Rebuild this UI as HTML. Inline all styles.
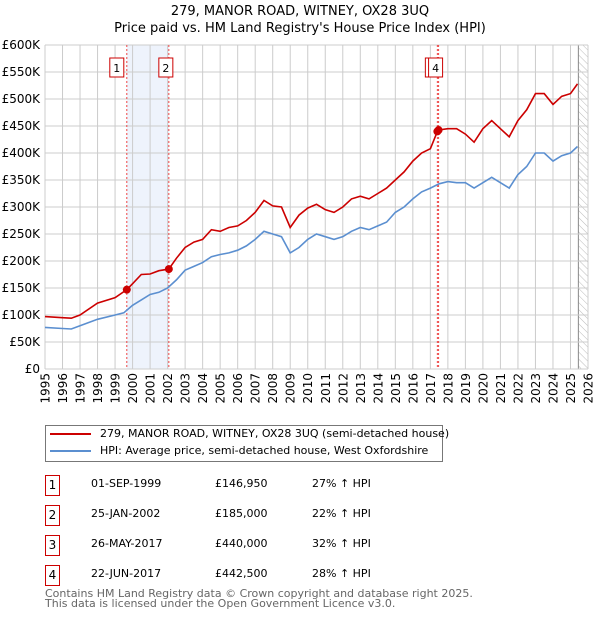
<!DOCTYPE html>
<html><head><meta charset="utf-8"><style>
body{margin:0;background:#fff;font-family:"DejaVu Sans","Liberation Sans",sans-serif;}
#wrap{position:relative;width:600px;height:620px;overflow:hidden}
.t{position:absolute;font-size:12px;color:#000;white-space:nowrap}
.box{position:absolute;border:1px solid #c00;width:13px;height:19px;font-size:12px;text-align:center;line-height:19px}
</style></head><body><div id="wrap">
<div class="t" style="left:0;width:600px;text-align:center;top:4px;font-size:13px">279, MANOR ROAD, WITNEY, OX28 3UQ</div>
<div class="t" style="left:0;width:600px;text-align:center;top:21px;font-size:13px">Price paid vs. HM Land Registry's House Price Index (HPI)</div>
<svg id="chart" width="600" height="420" style="position:absolute;left:0;top:0"></svg>
<div style="position:absolute;left:45px;top:425px;width:396px;height:35px;border:1px solid #777"></div>
<div style="position:absolute;left:50px;top:433px;width:41px;height:2px;background:#c00"></div>
<div class="t" style="left:100px;top:427px;font-size:11px">279, MANOR ROAD, WITNEY, OX28 3UQ (semi-detached house)</div>
<div style="position:absolute;left:50px;top:450px;width:41px;height:2px;background:#5b8fd0"></div>
<div class="t" style="left:100px;top:444px;font-size:11px">HPI: Average price, semi-detached house, West Oxfordshire</div>
<div id="table"></div>
<div class="t" style="left:45px;top:589px;color:#666;font-size:11px;line-height:10px">Contains HM Land Registry data © Crown copyright and database right 2025.<br>This data is licensed under the Open Government Licence v3.0.</div>
</div>
<script>
const hpiYears=[1995,1996,1996.5,1997,1998,1999,1999.5,2000,2000.5,2001,2001.5,2002,2002.5,2003,2003.5,2004,2004.5,2005,2005.5,2006,2006.5,2007,2007.5,2008,2008.5,2009,2009.5,2010,2010.5,2011,2011.5,2012,2012.5,2013,2013.5,2014,2014.5,2015,2015.5,2016,2016.5,2017,2017.5,2018,2018.5,2019,2019.5,2020,2020.5,2021,2021.5,2022,2022.5,2023,2023.5,2024,2024.5,2025,2025.4];
const hpiValues=[77,75,74,80,92,100,104,118,128,138,142,150,165,183,190,197,208,212,215,220,228,240,255,250,245,215,225,240,250,245,240,245,255,262,258,265,272,290,300,315,328,335,343,347,345,345,335,345,355,345,335,360,375,400,400,385,395,400,412];
const priceYears=[1995,1996,1996.5,1997,1998,1999,1999.67,2000,2000.5,2001,2001.5,2002.07,2002.5,2003,2003.5,2004,2004.5,2005,2005.5,2006,2006.5,2007,2007.5,2008,2008.5,2009,2009.5,2010,2010.5,2011,2011.5,2012,2012.5,2013,2013.5,2014,2014.5,2015,2015.5,2016,2016.5,2017,2017.4,2017.47,2018,2018.5,2019,2019.5,2020,2020.5,2021,2021.5,2022,2022.5,2023,2023.5,2024,2024.5,2025,2025.4];
const priceValues=[97,95,94,100,122,132,147,158,175,176,182,185,205,225,235,240,258,255,262,265,275,290,312,302,300,262,285,298,305,295,290,300,315,320,315,325,335,350,365,385,400,408,440,442.5,445,445,435,420,445,460,445,430,460,480,510,510,490,505,510,528];
const saleLabels=["1","2","3","4"];
const saleYears=[1999.67,2002.07,2017.4,2017.47];
const saleValues=[146.95,185,440,442.5];
const saleDates=["01-SEP-1999","25-JAN-2002","26-MAY-2017","22-JUN-2017"];
const salePrices=["£146,950","£185,000","£440,000","£442,500"];
const saleHpi=["27% ↑ HPI","22% ↑ HPI","32% ↑ HPI","28% ↑ HPI"];
const yTicks=[0,50,100,150,200,250,300,350,400,450,500,550,600];
const xTicks=[];for(let y=1995;y<=2026;y++)xTicks.push(y);
const X0=45,X1=588,Y0=369,Y1=45;
const x=v=>X0+(v-1995)/31*(X1-X0);
const y=v=>Y0-v/600*(Y0-Y1);
const svg=document.getElementById('chart');const NS='http://www.w3.org/2000/svg';
function mk(t,a){const e=document.createElementNS(NS,t);for(const k in a)e.setAttribute(k,a[k]);svg.appendChild(e);return e;}
let defs=mk('defs',{});defs.innerHTML='<pattern id="hatch" width="5" height="5" patternUnits="userSpaceOnUse" patternTransform="rotate(-45)"><line x1="0" y1="0" x2="0" y2="5" stroke="#bbb" stroke-width="1"/></pattern>';
let band=mk('rect',{x:x(saleYears[0]),y:Y1,width:x(saleYears[1])-x(saleYears[0]),height:Y0-Y1,fill:'#eef3fc'});


let hatch=mk('rect',{x:x(2025.45),y:Y1,width:X1-x(2025.45),height:Y0-Y1,fill:'url(#hatch)'});


mk('line',{x1:x(2025.45),x2:x(2025.45),y1:Y1,y2:Y0,stroke:'#888','stroke-width':1});
xTicks.forEach(t=>{let l=mk('line',{x1:x(t),x2:x(t),y1:Y1,y2:Y0,stroke:'#ccc'});


let tx=mk('text',{x:0,y:0,'text-anchor':'end','font-size':12,'font-family':'DejaVu Sans, sans-serif',transform:'translate('+(x(t)+4.5)+',373) rotate(-90)'});tx.textContent=t;

});
yTicks.forEach(t=>{let l=mk('line',{x1:X0,x2:X1,y1:y(t),y2:y(t),stroke:'#ccc'});


let tx=mk('text',{x:40,y:y(t)+4,'text-anchor':'end','font-size':12,'font-family':'DejaVu Sans, sans-serif'});tx.textContent=t===0?'£0':'£'+t+'K';

});
saleYears.forEach((s,i)=>{let l=mk('line',{x1:x(s),x2:x(s),y1:Y1,y2:Y0,stroke:'#e44','stroke-width':1,'stroke-dasharray':'2,2'});

});
function path(xs,vs,c,n){let d=xs.map((v,i)=>(i?'L':'M')+x(v).toFixed(1)+','+y(vs[i]).toFixed(1)).join('');let p=mk('path',{d:d,fill:'none',stroke:c,'stroke-width':1.6});

}
path(hpiYears,hpiValues,'#5b8fd0','hpi-line');
path(priceYears,priceValues,'#cc0000','price-line');
saleYears.forEach((s,i)=>{let c=mk('circle',{cx:x(s),cy:y(saleValues[i]),r:4,fill:'#cc0000'});

});
const boxOff=[-10,-3,-5,-3];
saleYears.forEach((s,i)=>{const bx=x(s)+boxOff[i];let r=mk('rect',{x:bx-7,y:58,width:14,height:19,fill:'#fff',stroke:'#c00'});


let t=mk('text',{x:bx,y:72,'text-anchor':'middle','font-size':11,'font-family':'DejaVu Sans, sans-serif'});t.textContent=saleLabels[i];

});
const tb=document.getElementById('table');
saleLabels.forEach((l,i)=>{const top=475+i*30;
let h='<div class="box" style="left:45px;top:'+top+'px">'+l+'</div>'+
'<div class="t" style="left:91px;top:'+(top+2)+'px;font-size:11px">'+saleDates[i]+'</div>'+
'<div class="t" style="left:215px;top:'+(top+2)+'px;font-size:11px">'+salePrices[i]+'</div>'+
'<div class="t" style="left:312px;top:'+(top+2)+'px;font-size:11px">'+saleHpi[i]+'</div>';
tb.insertAdjacentHTML('beforeend',h);});
</script></body></html>
